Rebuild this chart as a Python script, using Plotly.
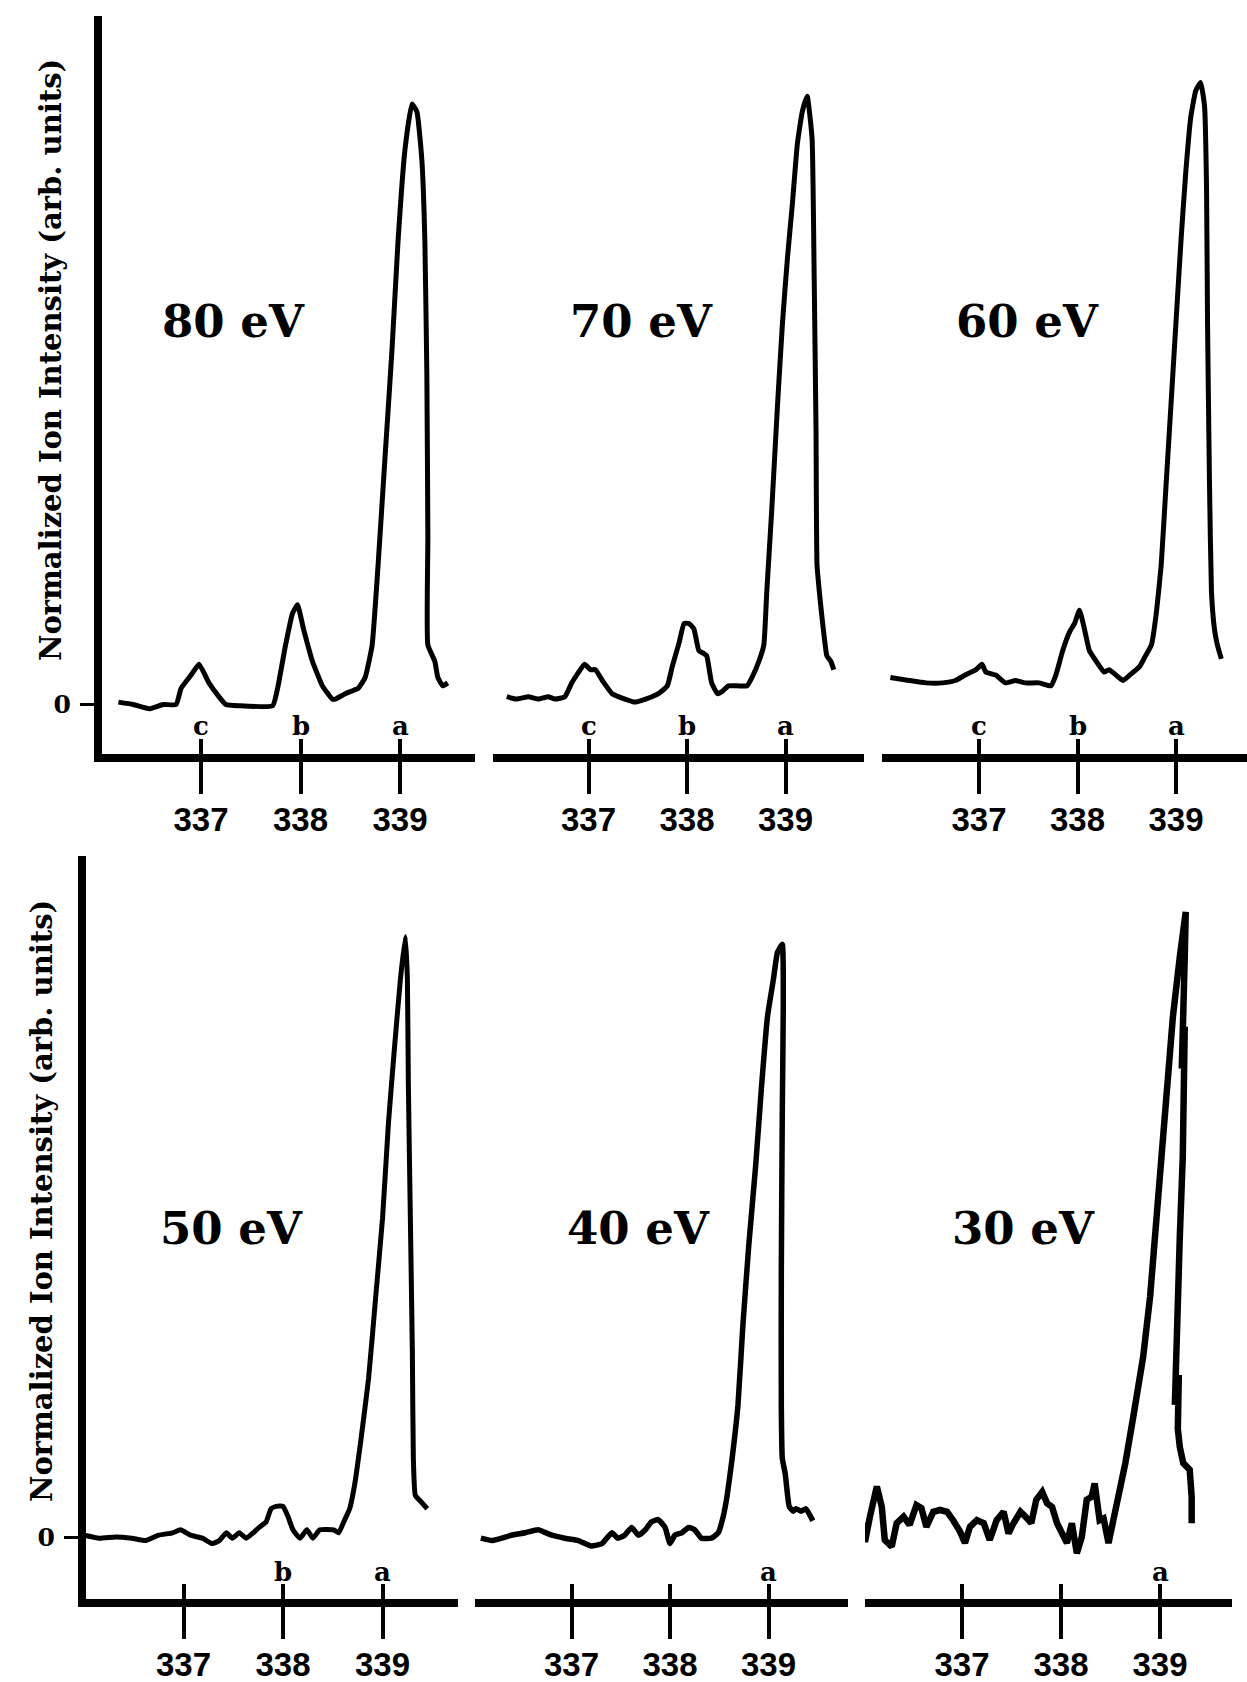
import plotly.graph_objects as go

W, H = 1247, 1682

# ---------------- data (binding energy in eV, normalized ion intensity) ----------------
e_80 = [336.17, 336.32, 336.48, 336.62, 336.75, 336.80, 336.90, 336.98, 337.08, 337.18, 337.25, 337.38,
        337.72, 337.77, 337.85, 337.92, 337.97, 338.03, 338.12, 338.22, 338.32, 338.35, 338.45, 338.58,
        338.65, 338.72, 338.78, 338.85, 338.92, 338.98, 339.05, 339.12, 339.17, 339.22, 339.25, 339.27,
        339.28, 339.28, 339.35, 339.38, 339.43, 339.48]
i_80 = [0.004, 0.0, -0.007, 0.0, 0.0, 0.027, 0.049, 0.067, 0.036, 0.013, 0.0, -0.002,
        -0.002, 0.027, 0.099, 0.152, 0.166, 0.126, 0.072, 0.031, 0.009, 0.009, 0.018, 0.027,
        0.045, 0.099, 0.233, 0.413, 0.592, 0.771, 0.924, 1.0, 0.987, 0.906, 0.771, 0.547,
        0.278, 0.099, 0.072, 0.045, 0.031, 0.036]

e_70 = [336.17, 336.27, 336.39, 336.49, 336.59, 336.66, 336.76, 336.83, 336.90, 336.96, 337.02, 337.07,
        337.14, 337.24, 337.37, 337.47, 337.58, 337.71, 337.80, 337.85, 337.92, 337.97, 338.02, 338.07,
        338.12, 338.17, 338.20, 338.25, 338.31, 338.36, 338.42, 338.53, 338.61, 338.66, 338.73, 338.78,
        338.81, 338.86, 338.92, 338.97, 339.02, 339.07, 339.12, 339.17, 339.22, 339.27, 339.29, 339.31,
        339.32, 339.36, 339.39, 339.42, 339.46, 339.49]
i_70 = [0.013, 0.009, 0.013, 0.009, 0.013, 0.009, 0.013, 0.036, 0.054, 0.067, 0.058, 0.058,
        0.040, 0.018, 0.009, 0.004, 0.009, 0.018, 0.031, 0.063, 0.103, 0.135, 0.135, 0.126,
        0.090, 0.085, 0.081, 0.036, 0.018, 0.022, 0.031, 0.031, 0.031, 0.045, 0.072, 0.099,
        0.188, 0.323, 0.502, 0.637, 0.744, 0.834, 0.933, 0.987, 1.013, 0.942, 0.726, 0.457,
        0.233, 0.161, 0.117, 0.081, 0.072, 0.058]

e_60 = [336.10, 336.29, 336.46, 336.63, 336.76, 336.86, 336.97, 337.03, 337.07, 337.17, 337.27, 337.37,
        337.47, 337.61, 337.73, 337.78, 337.85, 337.92, 337.97, 338.02, 338.07, 338.12, 338.19, 338.27,
        338.32, 338.39, 338.46, 338.53, 338.63, 338.69, 338.75, 338.80, 338.85, 338.90, 338.95, 339.00,
        339.05, 339.10, 339.15, 339.20, 339.25, 339.29, 339.31, 339.32, 339.34, 339.36, 339.39, 339.42,
        339.46]
i_60 = [0.045, 0.040, 0.036, 0.036, 0.040, 0.049, 0.058, 0.067, 0.054, 0.049, 0.036, 0.040,
        0.036, 0.036, 0.031, 0.049, 0.090, 0.121, 0.135, 0.157, 0.126, 0.090, 0.072, 0.054,
        0.058, 0.049, 0.040, 0.049, 0.063, 0.081, 0.099, 0.152, 0.233, 0.368, 0.502, 0.637,
        0.771, 0.888, 0.978, 1.022, 1.036, 0.996, 0.861, 0.637, 0.368, 0.188, 0.126, 0.099,
        0.076]

e_50 = [336.00, 336.15, 336.32, 336.48, 336.62, 336.75, 336.89, 336.97, 337.07, 337.19, 337.29, 337.36,
        337.43, 337.49, 337.56, 337.63, 337.70, 337.76, 337.83, 337.88, 337.93, 338.00, 338.05, 338.10,
        338.17, 338.24, 338.30, 338.37, 338.51, 338.56, 338.61, 338.67, 338.72, 338.78, 338.86, 338.93,
        339.00, 339.06, 339.12, 339.18, 339.23, 339.25, 339.26, 339.28, 339.30, 339.31, 339.33, 339.38,
        339.45]
i_50 = [0.003, -0.002, 0.0, -0.002, -0.006, 0.003, 0.007, 0.012, 0.003, -0.002, -0.011, -0.006,
        0.007, -0.002, 0.007, -0.002, 0.007, 0.016, 0.025, 0.047, 0.051, 0.051, 0.034, 0.012,
        -0.002, 0.012, -0.002, 0.012, 0.012, 0.007, 0.025, 0.047, 0.087, 0.158, 0.264, 0.397,
        0.530, 0.690, 0.814, 0.929, 1.0, 0.929, 0.752, 0.530, 0.309, 0.131, 0.069, 0.060,
        0.047]

e_40 = [336.08, 336.19, 336.29, 336.39, 336.53, 336.66, 336.80, 336.93, 337.07, 337.20, 337.31, 337.41,
        337.47, 337.54, 337.61, 337.68, 337.75, 337.81, 337.88, 337.95, 338.00, 338.05, 338.12, 338.19,
        338.25, 338.32, 338.42, 338.49, 338.54, 338.58, 338.63, 338.69, 338.74, 338.80, 338.87, 338.93,
        338.99, 339.05, 339.09, 339.14, 339.15, 339.14, 339.13, 339.13, 339.14, 339.17, 339.21, 339.25,
        339.28, 339.33, 339.38, 339.45]
i_40 = [-0.002, -0.006, -0.002, 0.003, 0.007, 0.012, 0.003, -0.002, -0.006, -0.015, -0.011, 0.007,
        -0.002, 0.003, 0.016, 0.003, 0.012, 0.025, 0.029, 0.016, -0.011, 0.003, 0.007, 0.016,
        0.012, -0.002, -0.002, 0.007, 0.034, 0.069, 0.130, 0.220, 0.353, 0.486, 0.619, 0.752,
        0.867, 0.929, 0.973, 0.987, 0.885, 0.707, 0.441, 0.220, 0.131, 0.105, 0.051, 0.043,
        0.047, 0.043, 0.047, 0.027]

e_30 = [335.97, 336.02, 336.07, 336.14, 336.19, 336.22, 336.29, 336.34, 336.41, 336.47, 336.54, 336.59,
        336.64, 336.71, 336.78, 336.85, 336.91, 336.98, 337.03, 337.08, 337.15, 337.22, 337.28, 337.35,
        337.42, 337.47, 337.52, 337.59, 337.64, 337.70, 337.75, 337.81, 337.86, 337.91, 337.96, 338.01,
        338.06, 338.11, 338.16, 338.21, 338.26, 338.31, 338.34, 338.39, 338.43, 338.48, 338.56, 338.65,
        338.73, 338.83, 338.90, 338.95, 339.00, 339.05, 339.10, 339.13, 339.20, 339.26,
        339.25, 339.235, 339.22, 339.25, 339.245, 339.23, 339.20, 339.185, 339.16, 339.15, 339.19, 339.18,
        339.20, 339.235, 339.30, 339.32, 339.32]
i_30 = [0.042, -0.008, 0.034, 0.084, 0.050, -0.005, -0.016, 0.023, 0.034, 0.020, 0.053, 0.048,
        0.017, 0.042, 0.045, 0.042, 0.028, 0.009, -0.010, 0.017, 0.028, 0.023, -0.005, 0.028,
        0.042, 0.006, 0.023, 0.042, 0.034, 0.023, 0.062, 0.075, 0.056, 0.050, 0.023, 0.009,
        -0.010, 0.023, -0.027, 0.0, 0.062, 0.067, 0.089, 0.028, 0.031, -0.010, 0.050, 0.123,
        0.200, 0.300, 0.400, 0.505, 0.606, 0.689, 0.789, 0.866, 0.966, 1.041,
        0.966, 0.883, 0.780, 0.850, 0.750, 0.633, 0.500, 0.400, 0.300, 0.220, 0.270, 0.180,
        0.150, 0.123, 0.112, 0.067, 0.023]

tick_vals = [337, 338, 339]
tick_text = ["337", "338", "339"]
panel_labels = ["80 eV", "70 eV", "60 eV", "50 eV", "40 eV", "30 eV"]
top_letters = ["c", "b", "a"]
top_letter_pos = [337, 338, 339]
bottom_letters = [["b", "a"], ["a"], ["a"]]
bottom_letter_pos = [[338, 339], [339], [339]]
y_title = "Normalized Ion Intensity (arb. units)"

series = [(e_80, i_80), (e_70, i_70), (e_60, i_60), (e_50, i_50), (e_40, i_40), (e_30, i_30)]

# ---------------- layout geometry (pixels) ----------------
# x domain start/end px, px position of 338 eV, px per eV
xgeo = [(102, 475, 300.5, 99.5), (493, 864, 687, 98.5), (882, 1247, 1077.5, 98.5),
        (86, 458, 283, 99.5), (475, 848, 670, 98.5), (865, 1232, 1061, 99.0)]
# y domain top/bottom px, zero px, px per unit
ygeo = [(16, 754, 704.5, 600.5), (856, 1599, 1537, 600.5)]

def xr(g):
    a, b, p0, s = g
    return [338 + (a - p0) / s, 338 + (b - p0) / s]

def yr(g):
    t, b, z, s = g
    return [(z - b) / s, (z - t) / s]

line_w = [5, 5, 5, 5, 5.5, 6.5]
line_shape = ["spline", "spline", "spline", "spline", "spline", "linear"]
fig = go.Figure()
for k, (e, i) in enumerate(series):
    xa = "x" if k == 0 else f"x{k+1}"
    ya = "y" if k < 3 else "y2"
    ln = dict(color="black", width=line_w[k], shape=line_shape[k])
    if line_shape[k] == "spline":
        ln["smoothing"] = 0.4
    fig.add_trace(go.Scatter(x=e, y=i, mode="lines", xaxis=xa, yaxis=ya, line=ln, hoverinfo="skip"))
# empty traces for overlay tick axes (upper half of crossing ticks)
for k in range(6):
    ya = "y" if k < 3 else "y2"
    fig.add_trace(go.Scatter(x=[], y=[], xaxis=f"x{k+7}", yaxis=ya, hoverinfo="skip"))

tickfont = dict(family="Liberation Sans", size=33, color="black", weight="bold")
layout = dict(width=W, height=H, margin=dict(l=0, r=0, t=0, b=0),
              paper_bgcolor="white", plot_bgcolor="white", showlegend=False)

for k in range(6):
    g = xgeo[k]
    name = "xaxis" if k == 0 else f"xaxis{k+1}"
    ya = "y" if k < 3 else "y2"
    layout[name] = dict(domain=[g[0] / W, g[1] / W], range=xr(g), anchor=ya,
                        showline=True, linewidth=8, linecolor="black", mirror=False,
                        showgrid=False, zeroline=False,
                        tickmode="array", tickvals=tick_vals, ticktext=tick_text,
                        ticks="outside", ticklen=32, tickwidth=4, tickcolor="black",
                        tickfont=tickfont, ticklabelstandoff=-3)
    ov = f"xaxis{k+7}"
    layout[ov] = dict(overlaying="x" if k == 0 else f"x{k+1}", range=xr(g), anchor=ya,
                      showline=False, showgrid=False, zeroline=False,
                      tickmode="array", tickvals=tick_vals, ticks="inside", ticklen=15,
                      tickwidth=4, tickcolor="black", showticklabels=False)

for j, g in enumerate(ygeo):
    name = "yaxis" if j == 0 else "yaxis2"
    layout[name] = dict(domain=[1 - g[1] / H, 1 - g[0] / H], range=yr(g),
                        anchor="x" if j == 0 else "x4",
                        showline=True, linewidth=8, linecolor="black",
                        showgrid=False, zeroline=False,
                        tickmode="array", tickvals=[0], ticktext=["0"],
                        ticks="outside", ticklen=14, tickwidth=3, tickcolor="black",
                        tickfont=dict(family="DejaVu Serif", size=25, color="black", weight="bold"),
                        ticklabelstandoff=4)

fig.update_layout(**layout)

anns = []
label_pos = [(337.33, 0.638), (337.54, 0.638), (337.49, 0.638), (337.48, 0.513), (337.68, 0.513), (337.62, 0.513)]
for k in range(6):
    xa = "x" if k == 0 else f"x{k+1}"
    ya = "y" if k < 3 else "y2"
    anns.append(dict(x=label_pos[k][0], y=label_pos[k][1], xref=xa, yref=ya, text=panel_labels[k],
                     showarrow=False, xanchor="center", yanchor="middle",
                     font=dict(family="DejaVu Serif", size=45, color="black", weight="bold")))
letter_font = dict(family="DejaVu Serif", size=26, color="black", weight="bold")
for k in range(3):
    xa = "x" if k == 0 else f"x{k+1}"
    for t, p in zip(top_letters, top_letter_pos):
        anns.append(dict(x=p, y=-0.036, xref=xa, yref="y", text=t, showarrow=False,
                         xanchor="center", yanchor="middle", font=letter_font))
for k in range(3):
    xa = f"x{k+4}"
    for t, p in zip(bottom_letters[k], bottom_letter_pos[k]):
        anns.append(dict(x=p, y=-0.058, xref=xa, yref="y2", text=t, showarrow=False,
                         xanchor="center", yanchor="middle", font=letter_font))
title_font = dict(family="DejaVu Serif", size=29, color="black", weight="bold")
anns.append(dict(x=51 / W, y=1 - 360 / H, xref="paper", yref="paper", text=y_title, textangle=-90,
                 showarrow=False, xanchor="center", yanchor="middle", font=title_font))
anns.append(dict(x=42 / W, y=1 - 1201 / H, xref="paper", yref="paper", text=y_title, textangle=-90,
                 showarrow=False, xanchor="center", yanchor="middle", font=title_font))
fig.update_layout(annotations=anns)

fig.write_html("out.html", config={"displayModeBar": False},
               post_script="document.body.style.margin='0';document.body.style.overflow='hidden';")
